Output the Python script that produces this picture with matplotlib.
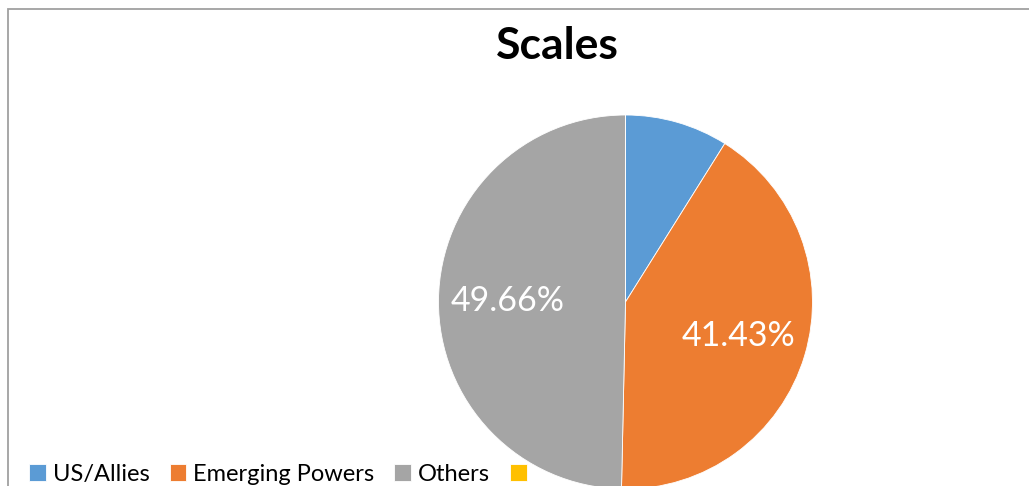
import matplotlib.pyplot as plt
from matplotlib.patches import Rectangle

plt.rcParams['font.family'] = ['Lato', 'DejaVu Sans']

labels = ['US/Allies', 'Emerging Powers', 'Others', '']
shares = [8.91, 41.43, 49.66, 0.0]
colors = ['#5B9BD5', '#ED7D31', '#A5A5A5', '#FFC000']

W, H = 1029, 486
fig = plt.figure(figsize=(W / 100, H / 100), dpi=100)

# chart border (cropped on the right and bottom)
fig.patches.append(Rectangle((8 / W, -0.2), 1.2, 1.2 - 9 / H,
                             transform=fig.transFigure, fill=False,
                             edgecolor='#A0A0A0', linewidth=1.3))

# pie axes placed in pixels: centre (625.5, 302), radius 187
cx, cy, r = 625.5, 302, 187
ax = fig.add_axes([(cx - r) / W, (H - cy - r) / H, 2 * r / W, 2 * r / H])
wedges, texts, autotexts = ax.pie(
    shares, colors=colors, startangle=90, counterclock=False,
    autopct=lambda p: f'{p:.2f}%' if p > 20 else '',
    pctdistance=0.63, radius=1,
    wedgeprops=dict(edgecolor='white', linewidth=0.6))
for t in autotexts:
    t.set_color('white')
    t.set_fontsize(24.5)
ax.set_xlim(-1, 1)
ax.set_ylim(-1, 1)
ax.axis('off')

fig.text(557 / W, 1 - 46 / H, 'Scales', ha='center', va='center',
         fontsize=32, fontweight='bold')

fig.legend(wedges, labels, loc='lower left', bbox_to_anchor=(8 / W, -20 / H),
           ncol=4, frameon=False, fontsize=17, handlelength=0.7,
           handleheight=0.7, handletextpad=0.3, columnspacing=0.85)

fig.savefig('out.png', dpi=100)
